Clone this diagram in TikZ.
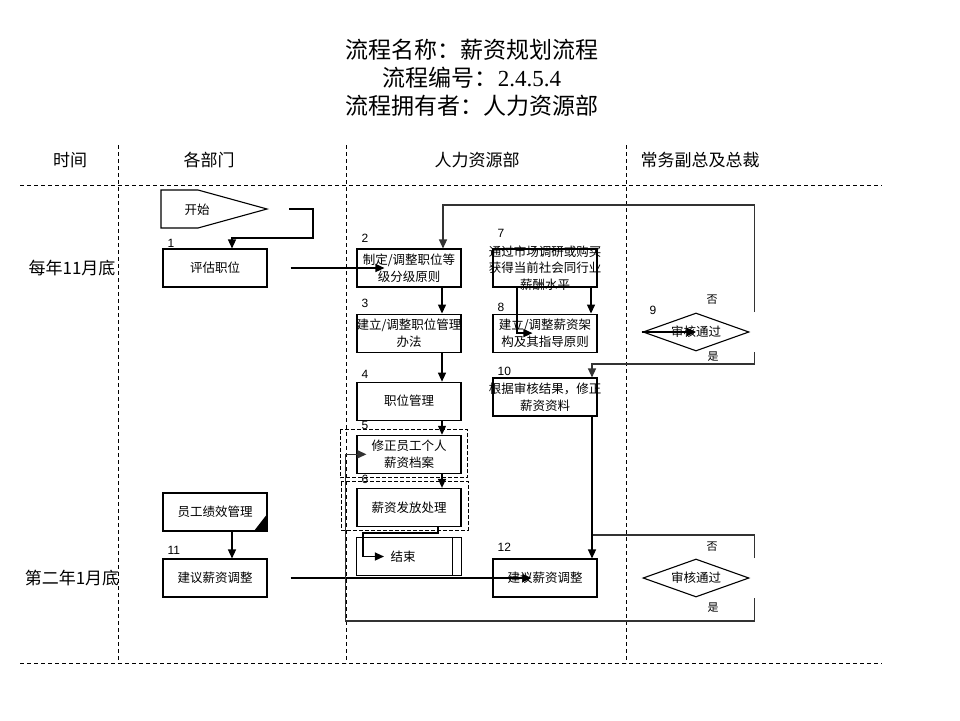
\documentclass[tikz,border=0pt]{standalone}
\usepackage{fontspec}
\setmainfont{Liberation Serif}
\setsansfont{Liberation Sans}
\newfontfamily\cjk{Noto Sans CJK SC}
\usetikzlibrary{positioning,arrows.meta,shapes.geometric}

\begin{document}
\begin{tikzpicture}[
    x=1pt, y=-1pt,
    box/.style={rectangle, draw, line width=1.1pt, minimum width=104pt, minimum height=38pt,
                inner sep=1pt, align=center, font=\cjk\fontsize{12.5}{17}\selectfont},
    txt/.style={align=center, inner sep=0pt, font=\cjk\fontsize{12.5}{16.5}\selectfont},
    num/.style={anchor=south west, inner sep=0pt, xshift=5pt, font=\sffamily\fontsize{12}{12}\selectfont},
    decide/.style={diamond, draw, line width=1.1pt, minimum width=106pt, minimum height=38pt,
                   inner sep=0pt, aspect=2.8, font=\cjk\fontsize{12.5}{14}\selectfont},
    yn/.style={inner sep=0pt, font=\cjk\fontsize{11}{11}\selectfont},
    head/.style={font=\cjk\fontsize{17}{20}\selectfont},
    lane/.style={dashed, dash pattern=on 4pt off 3pt, line width=0.9pt},
    hilite/.style={dashed, dash pattern=on 4pt off 2pt, line width=0.9pt},
    arrow/.style={-{Triangle[length=9pt, width=8pt]}, line width=1.3pt},
    back/.style={line width=1.8pt, black!80},
]
\path[use as bounding box, fill=white] (0,0) rectangle (960,720);

% Title
\node[align=center, font=\fontsize{23}{28}\selectfont] (title) at (472,78)
    {{\cjk 流程名称：薪资规划流程}\\{\cjk 流程编号：}2.4.5.4\\{\cjk 流程拥有者：人力资源部}};

% Lanes
\node[head] (h-time) at (70,160) {时间};
\node[head] (h-dept) at (209,160) {各部门};
\node[head] (h-hr) at (477,160) {人力资源部};
\node[head] (h-ceo) at (700,160) {常务副总及总裁};
\draw[lane] (20,185) -- (882,185);
\draw[lane] (20,663) -- (882,663);
\foreach \x in {118,346,626}
  \draw[lane] (\x,145) -- (\x,663);

\node[head] (t-nov) at (72,268) {每年11月底};
\node[head] (t-jan) at (72,578) {第二年1月底};

% Start
\coordinate (s-tip) at (267,209);
\draw[line width=1.1pt] (161,190) -- (198,190) -- (s-tip) -- (198,228) -- (161,228) -- cycle;
\node[txt] (start) at (197,210) {开始};

% Departments
\node[box] (e1) at (215,268) {评估职位};
\node[box] (perf) at (215,512) {员工绩效管理};
\node[box] (e11) at (215,578) {建议薪资调整};
\fill (perf.south east) -- ++(-14,0) -- ++(14,-18) -- cycle;

% HR
\node[box] (e2) at (409,268) {制定/调整职位等\\级分级原则};
\node[box, below=26pt of e2] (e3) {};
\node[txt] (t3) at (e3.center) {建立/调整职位管理\\办法};
\node[box, below=29pt of e3] (e4) {职位管理};
\node[box, below=14pt of e4] (e5) {修正员工个人\\薪资档案};
\node[box, below=14pt of e5] (e6) {薪资发放处理};
\node[box, minimum width=105pt, below=10pt of e6] (end) {};
\node[txt] (t-end) at ([xshift=-6pt]end.center) {结束};
\draw[line width=1.1pt] ([xshift=-10pt]end.north east) -- ([xshift=-10pt]end.south east);

\node[box] (e7) at (545,268) {};
\node[txt] (t7) at (e7.center) {通过市场调研或购买\\获得当前社会同行业\\薪酬水平};
\node[box, below=26pt of e7] (e8) {建立/调整薪资架\\构及其指导原则};
\node[box] (e10) at (545,397) {};
\node[txt] (t10) at (e10.center) {根据审核结果，修正\\薪资资料};
\node[box] (e12) at (545,578) {建议薪资调整};

\draw[hilite] ([shift={(-16,-5)}]e5.north west) rectangle ([shift={(6,4)}]e5.south east);
\draw[hilite] ([shift={(-15,-6)}]e6.north west) rectangle ([shift={(7,3)}]e6.south east);

% CEO
\node[decide] (d9) at (696,332) {审核通过};
\node[decide] (d13) at (696,578) {审核通过};
\node[yn] (no9) at (712,300) {否};
\node[yn] (yes9) at (713,357) {是};
\node[yn] (no13) at (712,547) {否};
\node[yn] (yes13) at (713,608) {是};
\coordinate (d9n) at ([shift={(5,-20)}]d9.east);
\coordinate (d9y) at ([shift={(5,20)}]d9.east);
\coordinate (d13n) at ([shift={(5,-20)}]d13.east);
\coordinate (d13y) at ([shift={(5,20)}]d13.east);

% Step numbers
\node[num, yshift=1pt] (n1) at (e1.north west) {1};
\node[num, yshift=6pt] (n2) at (e2.north west) {2};
\node[num, yshift=6pt] (n3) at (e3.north west) {3};
\node[num, yshift=3pt] (n4) at (e4.north west) {4};
\node[num, yshift=5pt] (n5) at (e5.north west) {5};
\node[num, yshift=4pt] (n6) at (e6.north west) {6};
\node[num, yshift=11pt] (n7) at (e7.north west) {7};
\node[num, yshift=2pt] (n8) at (e8.north west) {8};
\node[num] (n9) at ([shift={(2,-17)}]d9.west) {9};
\node[num, yshift=2pt] (n10) at (e10.north west) {10};
\node[num, yshift=4pt] (n11) at (e11.north west) {11};
\node[num, yshift=7pt] (n12) at (e12.north west) {12};

% Flow
\draw[arrow] ([xshift=22pt]s-tip) -- ++(24,0) -- ++(0,29) -| ([xshift=17pt]e1.north);
\draw[arrow] ([xshift=23pt]e1.east) -- ([xshift=28pt]e2.west);
\draw[arrow] ([xshift=33pt]e2.south) -- ([xshift=33pt]e3.north);
\draw[arrow] ([xshift=33pt]e3.south) -- ([xshift=33pt]e4.north);
\draw[arrow] ([xshift=33pt]e4.south) -- ([xshift=33pt]e5.north);
\draw[arrow] ([xshift=33pt]e5.south) -- ([xshift=33pt]e6.north);
\draw[arrow] ([xshift=29pt]e6.south) -- ++(0,6) -- ++(-75,0) |- ([xshift=28pt]end.west);
\draw[arrow] ([xshift=-28pt]e7.south) |- ([xshift=40pt]e8.west);
\draw[arrow] ([xshift=46pt]e7.south) -- ([xshift=46pt]e8.north);
\draw[arrow] (d9.west) -- (d9.center);
\draw[arrow] ([xshift=17pt]perf.south) -- ([xshift=17pt]e11.north);
\draw[arrow] ([xshift=23pt]e11.east) -- ([xshift=39pt]e12.west);
\draw[arrow] ([xshift=47pt]e10.south) -- ([xshift=47pt]e12.north);

% Review loops
\draw[back, arrow] (d9n) -- ++(0,-107) -| ([xshift=34pt]e2.north);
\draw[back, arrow] (d9y) -- ++(0,12) -| ([xshift=47pt]e10.north);
\draw[back] (d13n) -- ++(0,-23) -- ++(-162,0);
\draw[back, arrow] (d13y) -- ++(0,23) -- ++(-409,0) |- ([xshift=10pt]e5.west);
\end{tikzpicture}
\end{document}
